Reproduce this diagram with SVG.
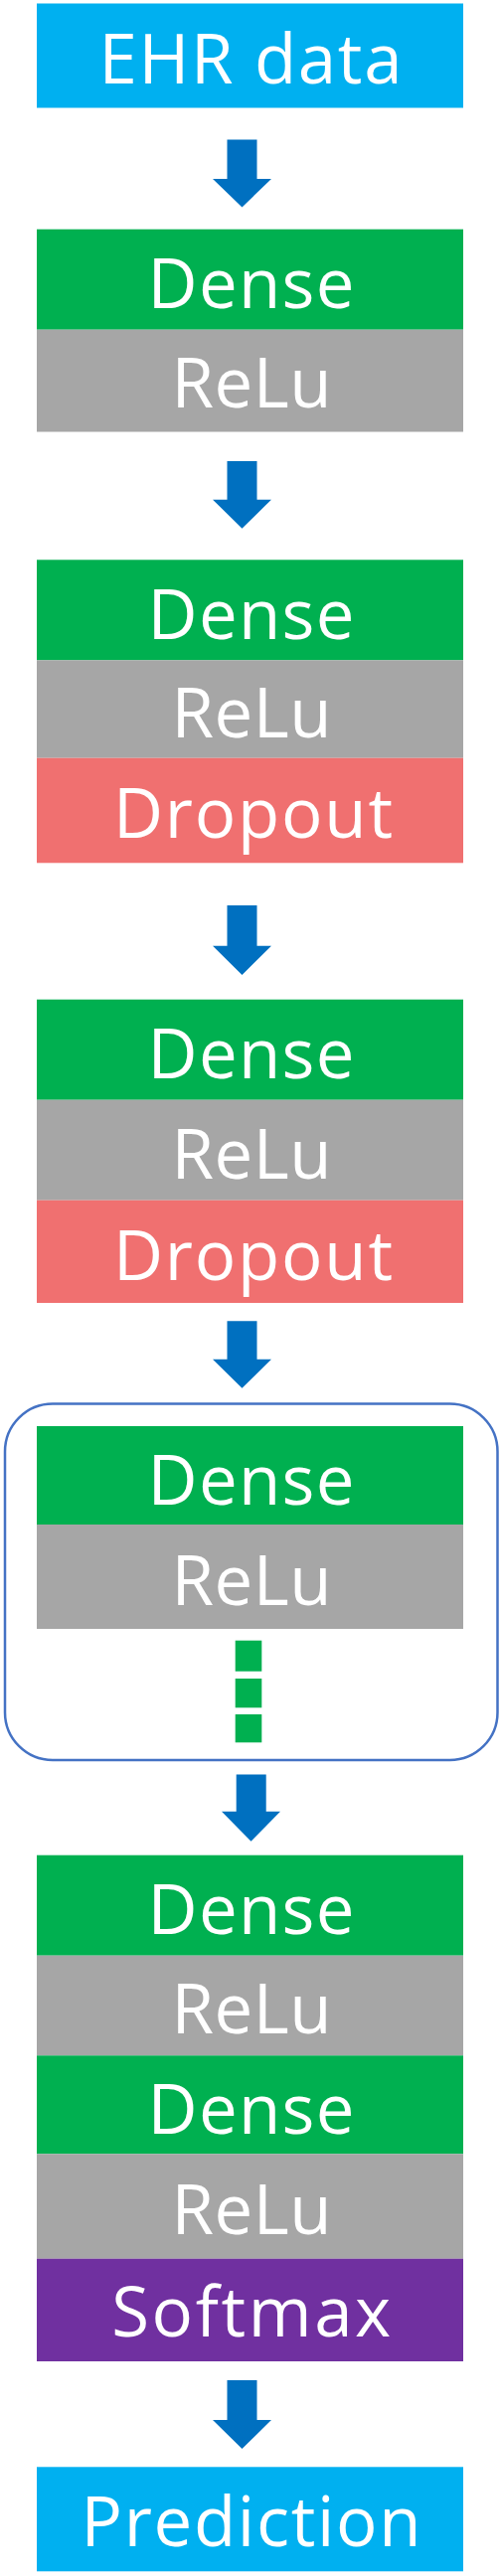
<svg xmlns="http://www.w3.org/2000/svg" width="504" height="2592" viewBox="0 0 504 2592">
<style>
.t{font-family:"Open Sans","Noto Sans","Liberation Sans",sans-serif;font-size:69px;fill:#ffffff;text-anchor:middle}
.io{fill:#00B0F0}
.dense{fill:#00B050}
.relu{fill:#A6A6A6}
.drop{fill:#F07070}
.soft{fill:#7030A0}
.arrow{fill:#0070C0}
</style>
<rect width="504" height="2592" fill="#ffffff"/>
<g id="connectors">
<polygon class="arrow" points="228.5,140.5 258.5,140.5 258.5,180 273,180 243.5,208.5 214,180 228.5,180"/>
<polygon class="arrow" points="228.5,464 258.5,464 258.5,502.7 273,502.7 243.5,531.7 214,502.7 228.5,502.7"/>
<polygon class="arrow" points="228.5,911 258.5,911 258.5,951.7 273,951.7 243.5,981 214,951.7 228.5,951.7"/>
<polygon class="arrow" points="228.5,1329.3 258.5,1329.3 258.5,1367.7 273,1367.7 243.5,1396.7 214,1367.7 228.5,1367.7"/>
<polygon class="arrow" points="237.7,1785.5 267.7,1785.5 267.7,1822.7 282,1822.7 252.5,1852.7 223,1822.7 237.7,1822.7"/>
<polygon class="arrow" points="228.5,2395 258.5,2395 258.5,2435 273,2435 243.5,2464 214,2435 228.5,2435"/>
</g>
<g id="ehr">
<rect class="io" x="37" y="3.5" width="429" height="105"/>
<text class="t" x="252" y="84.3" font-size="73" textLength="305">EHR data</text>
</g>
<g id="block1">
<rect class="dense" x="37" y="230.7" width="429" height="101"/>
<text class="t" x="252.5" y="310" textLength="208">Dense</text>
<rect class="relu" x="37" y="331.7" width="429" height="102.8"/>
<text class="t" x="253" y="409.5" textLength="161">ReLu</text>
</g>
<g id="block2">
<rect class="dense" x="37" y="563.3" width="429" height="101"/>
<text class="t" x="252.5" y="642.5" textLength="208">Dense</text>
<rect class="relu" x="37" y="664.3" width="429" height="98.4"/>
<text class="t" x="253" y="741.5" textLength="161">ReLu</text>
<rect class="drop" x="37" y="762.7" width="429" height="105.6"/>
<text class="t" x="254.5" y="842.7" textLength="281">Dropout</text>
</g>
<g id="block3">
<rect class="dense" x="37" y="1005.7" width="429" height="101"/>
<text class="t" x="252.5" y="1085" textLength="208">Dense</text>
<rect class="relu" x="37" y="1106.7" width="429" height="101"/>
<text class="t" x="253" y="1185.5" textLength="161">ReLu</text>
<rect class="drop" x="37" y="1207.7" width="429" height="103.3"/>
<text class="t" x="254.5" y="1287.5" textLength="281">Dropout</text>
</g>
<g id="repeat-block">
<rect x="5" y="1412.5" width="495.5" height="358.5" rx="48" ry="48" fill="none" stroke="#4472C4" stroke-width="2.5"/>
<rect class="dense" x="37" y="1435" width="429" height="99"/>
<text class="t" x="252.5" y="1513.5" textLength="208">Dense</text>
<rect class="relu" x="37" y="1534" width="429" height="105"/>
<text class="t" x="253" y="1614.5" textLength="161">ReLu</text>
<rect class="dense" x="236.7" y="1650.7" width="26.6" height="31"/>
<rect class="dense" x="236.7" y="1689" width="26.6" height="29.3"/>
<rect class="dense" x="236.7" y="1725" width="26.6" height="28.3"/>
</g>
<g id="output-block">
<rect class="dense" x="37" y="1866.7" width="429" height="101"/>
<text class="t" x="252.5" y="1946" textLength="208">Dense</text>
<rect class="relu" x="37" y="1967.7" width="429" height="100.6"/>
<text class="t" x="253" y="2046" textLength="161">ReLu</text>
<rect class="dense" x="37" y="2068.3" width="429" height="99"/>
<text class="t" x="252.5" y="2147" textLength="208">Dense</text>
<rect class="relu" x="37" y="2167.3" width="429" height="105.4"/>
<text class="t" x="253" y="2248" textLength="161">ReLu</text>
<rect class="soft" x="37" y="2272.7" width="429" height="103.3"/>
<text class="t" x="252.7" y="2350.7" textLength="281">Softmax</text>
</g>
<g id="prediction">
<rect class="io" x="37" y="2482.3" width="429" height="105"/>
<text class="t" x="252.5" y="2561.7" textLength="342">Prediction</text>
</g>
</svg>
